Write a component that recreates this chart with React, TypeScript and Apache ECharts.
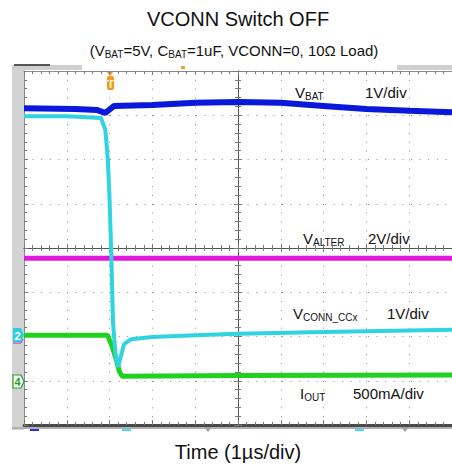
import React, { useEffect, useRef } from "react";
import * as echarts from "echarts";

// Time in µs (1 µs/div, 0 = screen centre), values in divisions from centre
const VBAT_T = [-5, -3.8, -3.3, -3.1, -2.9, -2, -1, 0, 1, 2, 3, 4, 5];
const VBAT_V = [3.16, 3.14, 3.12, 3.05, 3.21, 3.23, 3.28, 3.3, 3.28, 3.21, 3.14, 3.1, 3.07];
const VCONN_T = [-5, -4, -3.2, -3.1, -3.04, -3.0, -2.96, -2.92, -2.86, -2.8, -2.74, -2.66, -2.5, -2, -1, 0, 2, 5];
const VCONN_V = [2.98, 2.98, 2.94, 2.67, 1.99, 1.08, -0.16, -1.69, -2.42, -2.69, -2.46, -2.17, -2.06, -2.01, -1.97, -1.94, -1.9, -1.85];
const VALTER_T = [-5, -2, 1, 5];
const VALTER_V = [-0.23, -0.23, -0.23, -0.23];
const IOUT_T = [-5, -3.05, -2.95, -2.85, -2.77, -2.7, 0, 5];
const IOUT_V = [-1.97, -1.97, -2.2, -2.5, -2.8, -2.9, -2.88, -2.87];

const X_MIN = -5, X_MAX = 5, Y_MIN = -4, Y_MAX = 4;

const FONT = "'Liberation Sans', Arial, sans-serif";

const zip = (t: number[], v: number[]) => t.map((x, i) => [x, v[i]]);

export default function App() {
  const ref = useRef<HTMLDivElement>(null);
  useEffect(() => {
    document.body.style.margin = "0";
    const chart = echarts.init(ref.current!, null, { renderer: "svg" });
    const tickGray = "#7a7a7a";
    const xBase: any = {
      type: "value", min: X_MIN, max: X_MAX, interval: 1,
      axisLabel: { show: false }, splitLine: { show: false },
    };
    const yBase: any = {
      type: "value", min: Y_MIN, max: Y_MAX, interval: 1,
      axisLabel: { show: false }, splitLine: { show: false },
    };
    const minor = { show: true, splitNumber: 5, length: 3, lineStyle: { color: tickGray, width: 1 } };
    const dotV = { color: "#8a8a8a", width: 1, type: [1, 7.85] };
    const dotH = { color: "#8a8a8a", width: 1, type: [1, 7.6] };

    const sub = (fs: number) => ({ fontSize: fs, fontFamily: FONT, color: "#111", lineHeight: 12, verticalAlign: "bottom" });
    const main = (fs: number) => ({ fontSize: fs, fontFamily: FONT, color: "#111", lineHeight: 18 });
    const label = (x: number, y: number, text: string, fs = 15, sfs = 10, align = "left") => ({
      type: "text", x, y, silent: true,
      style: {
        text, textAlign: align, textVerticalAlign: "middle",
        rich: { m: main(fs), s: sub(sfs) },
        fontSize: fs, fontFamily: FONT, fill: "#111",
      },
    });

    chart.setOption({
      animation: false,
      backgroundColor: "#ffffff",
      grid: { left: 24, top: 71, width: 430, height: 354, containLabel: false },
      xAxis: [
        { ...xBase, position: "bottom", axisLine: { onZero: false, lineStyle: { color: "#4a4a4a", width: 3 } },
          axisTick: { inside: true, length: 5, lineStyle: { color: tickGray } }, minorTick: minor,
          splitLine: { show: true, lineStyle: dotV } },
        { ...xBase, position: "top", axisLine: { onZero: false, lineStyle: { color: "#8a8a8a", width: 1 } },
          axisTick: { inside: true, length: 4, lineStyle: { color: tickGray } }, minorTick: minor },
        { ...xBase, position: "bottom", axisLine: { onZero: true, onZeroAxisIndex: 0, lineStyle: { color: "#555", width: 1 } },
          axisTick: { inside: true, length: 4, lineStyle: { color: tickGray } }, minorTick: minor },
        { ...xBase, position: "bottom", axisLine: { onZero: true, onZeroAxisIndex: 0, lineStyle: { color: "#555", width: 1 } },
          axisTick: { inside: false, length: 4, lineStyle: { color: tickGray } }, minorTick: minor },
      ],
      yAxis: [
        { ...yBase, position: "left", axisLine: { onZero: false, lineStyle: { color: "#8a8a8a", width: 1 } },
          axisTick: { inside: true, length: 4, lineStyle: { color: tickGray } }, minorTick: minor,
          splitLine: { show: true, lineStyle: dotH } },
        { ...yBase, position: "left", axisLine: { onZero: true, onZeroAxisIndex: 0, lineStyle: { color: "#555", width: 1 } },
          axisTick: { inside: true, length: 4, lineStyle: { color: tickGray } }, minorTick: minor },
        { ...yBase, position: "left", axisLine: { onZero: true, onZeroAxisIndex: 0, lineStyle: { color: "#555", width: 1 } },
          axisTick: { inside: false, length: 4, lineStyle: { color: tickGray } }, minorTick: minor },
      ],
      series: [
        { name: "VALTER", type: "line", data: zip(VALTER_T, VALTER_V), showSymbol: false, silent: true,
          lineStyle: { color: "#e018dc", width: 5 }, z: 3 },
        { name: "IOUT", type: "line", data: zip(IOUT_T, IOUT_V), showSymbol: false, silent: true,
          lineStyle: { color: "#22d022", width: 5 }, z: 4 },
        { name: "VCONN_CCx", type: "line", data: zip(VCONN_T, VCONN_V), showSymbol: false, silent: true,
          lineStyle: { color: "#30d4e0", width: 4 }, z: 5 },
        { name: "VBAT", type: "line", data: zip(VBAT_T, VBAT_V), showSymbol: false, silent: true,
          lineStyle: { color: "#0a18dc", width: 6 }, z: 6 },
      ],
      graphic: [
        // side panel and scope decorations
        { type: "rect", shape: { x: 12, y: 67, width: 12, height: 363 }, style: { fill: "#d3d3d3" }, silent: true },
        { type: "rect", shape: { x: 12, y: 65, width: 70, height: 5 }, style: { fill: "#cfcfcf" }, silent: true },
        { type: "rect", shape: { x: 14, y: 64, width: 36, height: 2 }, style: { fill: "#555" }, silent: true },
        { type: "rect", shape: { x: 397, y: 65, width: 55, height: 5 }, style: { fill: "#cfcfcf" }, silent: true },
        { type: "rect", shape: { x: 181, y: 66, width: 4, height: 3 }, style: { fill: "#f0a030" }, silent: true },
        { type: "rect", shape: { x: 12, y: 427, width: 440, height: 2 }, style: { fill: "#b0b0b0" }, silent: true },
        // trigger marker
        { type: "polygon", shape: { points: [[106, 71], [114, 71], [110, 76]] }, style: { fill: "#f39a1e" }, silent: true },
        { type: "rect", shape: { x: 107, y: 76, width: 7, height: 14, r: 2 }, style: { fill: "#f39a1e" }, silent: true },
        { type: "text", x: 110.5, y: 83.5, silent: true, style: { text: "T", fill: "#fff3d0", fontSize: 11, fontWeight: "bold", fontFamily: FONT, textAlign: "center", textVerticalAlign: "middle" } },
        // channel markers
        { type: "polyline", shape: { points: [[13, 343], [21, 343], [23, 339]] }, style: { stroke: "#c030c0", lineWidth: 1, fill: "none" }, silent: true },
        { type: "polygon", shape: { points: [[13, 328], [21, 328], [24, 335], [21, 342], [13, 342]] }, style: { fill: "#2ccfe0" }, silent: true },
        { type: "text", x: 17.5, y: 335.5, silent: true, style: { text: "2", fill: "#ffffff", fontSize: 11, fontWeight: "bold", fontFamily: FONT, textAlign: "center", textVerticalAlign: "middle" } },
        { type: "polygon", shape: { points: [[13, 375], [21, 375], [24, 381.5], [21, 388], [13, 388]] }, style: { fill: "#ffffff", stroke: "#22a022", lineWidth: 1.2 }, silent: true },
        { type: "text", x: 17.5, y: 382, silent: true, style: { text: "4", fill: "#22a022", fontSize: 11, fontWeight: "bold", fontFamily: FONT, textAlign: "center", textVerticalAlign: "middle" } },
        // bottom markers
        { type: "rect", shape: { x: 30, y: 429, width: 9, height: 2 }, style: { fill: "#3030e0" }, silent: true },
        { type: "rect", shape: { x: 122, y: 429, width: 9, height: 2 }, style: { fill: "#40e0f0" }, silent: true },
        { type: "rect", shape: { x: 355, y: 429, width: 9, height: 2 }, style: { fill: "#40e0f0" }, silent: true },
        { type: "polygon", shape: { points: [[204, 427], [212, 427], [208, 432]] }, style: { fill: "#a0a0a0" }, silent: true },
        { type: "polygon", shape: { points: [[401, 427], [409, 427], [405, 432]] }, style: { fill: "#a0a0a0" }, silent: true },
        // titles
        { type: "text", x: 238, y: 19, silent: true, style: { text: "VCONN Switch OFF", fill: "#111", fontSize: 20, fontFamily: FONT, textAlign: "center", textVerticalAlign: "middle" } },
        label(234, 50, "{m|(V}{s|BAT}{m|=5V, C}{s|BAT}{m|=1uF, VCONN=0, 10Ω Load)}", 15, 10, "center"),
        { type: "text", x: 238, y: 452, silent: true, style: { text: "Time (1µs/div)", fill: "#111", fontSize: 20, fontFamily: FONT, textAlign: "center", textVerticalAlign: "middle" } },
        // trace labels
        label(295, 92, "{m|V}{s|BAT}"),
        label(365, 92, "{m|1V/div}"),
        label(303, 238, "{m|V}{s|ALTER}"),
        label(368, 238, "{m|2V/div}"),
        label(293, 313, "{m|V}{s|CONN_CCx}"),
        label(387, 313, "{m|1V/div}"),
        label(300, 393, "{m|I}{s|OUT}"),
        label(353, 393, "{m|500mA/div}"),
      ],
    });
    return () => chart.dispose();
  }, []);
  return <div ref={ref} style={{ width: 452, height: 468 }} />;
}
